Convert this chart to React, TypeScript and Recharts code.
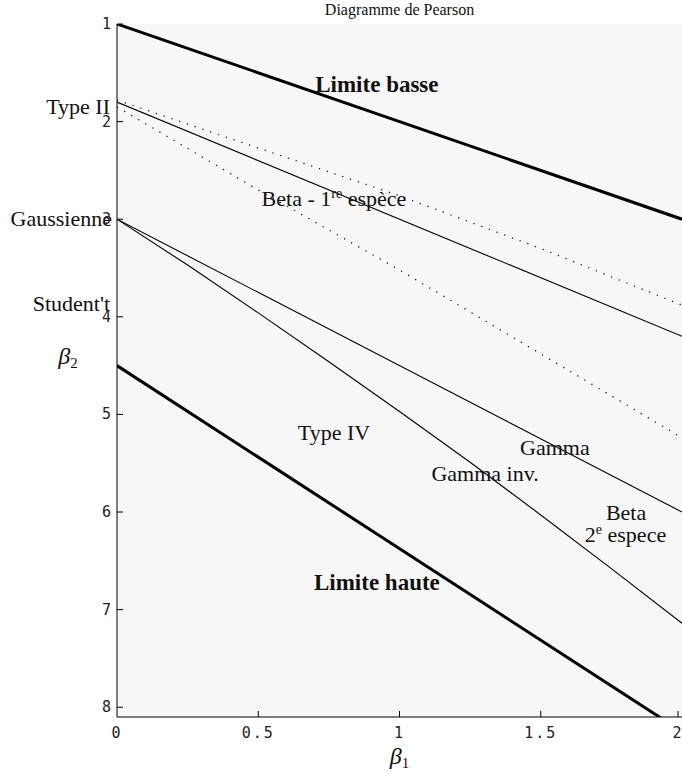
import React from 'react';
import { LineChart, Line, XAxis, YAxis, CartesianGrid, ReferenceDot } from 'recharts';

const BETA1_TICKS = [0, 0.5, 1, 1.5, 2];
const BETA2_TICKS = [1, 2, 3, 4, 5, 6, 7, 8];

const limiteBasse = [{ b1: 0, b2: 1 }, { b1: 2, b2: 3 }];
const limiteHaute = [{ b1: 0, b2: 4.5 }, { b1: 2, b2: 8.25 }];
const betaPremiere = [{ b1: 0, b2: 1.8 }, { b1: 2, b2: 4.2 }];
const pointilleHaut = [
  { b1: 0, b2: 1.78 }, { b1: 0.5, b2: 2.27 }, { b1: 1, b2: 2.76 }, { b1: 1.5, b2: 3.3 }, { b1: 2, b2: 3.88 },
];
const pointilleBas = [
  { b1: 0, b2: 1.85 }, { b1: 0.5, b2: 2.7 }, { b1: 1, b2: 3.52 }, { b1: 1.5, b2: 4.38 }, { b1: 2, b2: 5.24 },
];
const gamma = [{ b1: 0, b2: 3 }, { b1: 2, b2: 6 }];
const gammaInv = [
  { b1: 0, b2: 3 }, { b1: 0.25, b2: 3.47 }, { b1: 0.5, b2: 3.96 }, { b1: 0.75, b2: 4.46 },
  { b1: 1, b2: 4.97 }, { b1: 1.25, b2: 5.49 }, { b1: 1.5, b2: 6.03 }, { b1: 1.75, b2: 6.58 }, { b1: 2, b2: 7.14 },
];

type Annot = { text: string; sup?: string; rest?: string; b1: number; b2: number; anchor?: 'start' | 'middle' | 'end'; bold?: boolean; dx?: number };
const annotations: Annot[] = [
  { text: 'Limite basse', b1: 0.92, b2: 1.62, bold: true },
  { text: 'Beta - 1', sup: 're', rest: ' espèce', b1: 0.768, b2: 2.79 },
  { text: 'Type IV', b1: 0.768, b2: 5.19 },
  { text: 'Gamma', b1: 1.55, b2: 5.34 },
  { text: 'Gamma inv.', b1: 1.303, b2: 5.61 },
  { text: 'Beta', b1: 1.802, b2: 6.01 },
  { text: '2', sup: 'e', rest: ' espece', b1: 1.8, b2: 6.24 },
  { text: 'Limite haute', b1: 0.92, b2: 6.73, bold: true },
  { text: 'Type II', b1: 0, b2: 1.85, anchor: 'end', dx: -7 },
  { text: 'Gaussienne', b1: 0, b2: 3.0, anchor: 'end', dx: -5 },
  { text: "Student't", b1: 0, b2: 3.87, anchor: 'end', dx: -7 },
];

const W = 682;
const H = 774;
const PLOT_LEFT = 117;
const PLOT_BOTTOM = 717;
const SERIF = '"Liberation Serif", "DejaVu Serif", serif';
const MONO = '"DejaVu Sans Mono", monospace';
const LABEL_SIZE = 22;
const BOLD_SIZE = 23;

const YTick = (props: any) => {
  const { y, payload } = props;
  return (
    <g>
      <line x1={PLOT_LEFT} x2={PLOT_LEFT + 6} y1={y} y2={y} stroke="#000" strokeWidth={1} />
      <text x={PLOT_LEFT - 6} y={y} dy={5} textAnchor="end" fontFamily={MONO} fontSize={15} fill="#222">
        {payload.value}
      </text>
    </g>
  );
};

const XTick = (props: any) => {
  const { x, payload } = props;
  return (
    <g>
      {payload.value !== 0 && (
        <line x1={x} x2={x} y1={PLOT_BOTTOM} y2={PLOT_BOTTOM - 6} stroke="#000" strokeWidth={1} />
      )}
      <text x={x} y={PLOT_BOTTOM + 21} textAnchor="middle" fontFamily={MONO} fontSize={15} letterSpacing={2} fill="#222">
        {String(payload.value)}
      </text>
    </g>
  );
};

const AnnotLabel = (props: any) => {
  const { viewBox, a } = props;
  const cx = viewBox.x + (viewBox.width || 0) / 2;
  const cy = viewBox.y + (viewBox.height || 0) / 2;
  const size = a.bold ? BOLD_SIZE : LABEL_SIZE;
  return (
    <text
      x={cx + (a.dx || 0)}
      y={cy}
      dy={Math.round(size * 0.32)}
      textAnchor={a.anchor || 'middle'}
      fontFamily={SERIF}
      fontSize={size}
      fontWeight={a.bold ? 'bold' : 'normal'}
      fill="#111"
    >
      {a.text}
      {a.sup && (
        <tspan dy={-8} fontSize={14}>
          {a.sup}
        </tspan>
      )}
      {a.rest && <tspan dy={a.sup ? 8 : 0}>{a.rest}</tspan>}
    </text>
  );
};

const XLabel = (props: any) => {
  const { viewBox } = props;
  const cx = viewBox.x + viewBox.width / 2;
  return (
    <text x={cx} y={PLOT_BOTTOM + 47} textAnchor="middle" fontFamily={SERIF} fill="#111">
      <tspan fontStyle="italic" fontSize={24}>β</tspan>
      <tspan fontSize={15} dy={4}>1</tspan>
    </text>
  );
};

const YLabel = () => (
  <text x={68} y={364} textAnchor="middle" fontFamily={SERIF} fill="#111">
    <tspan fontStyle="italic" fontSize={24}>β</tspan>
    <tspan fontSize={15} dy={4}>2</tspan>
  </text>
);

export default function App() {
  return (
    <div style={{ position: 'absolute', left: 0, top: 0, width: W, height: H, background: '#fff' }}>
      <div
        style={{
          position: 'absolute',
          left: PLOT_LEFT,
          width: W - PLOT_LEFT,
          top: 0,
          textAlign: 'center',
          fontFamily: SERIF,
          fontSize: 16,
          lineHeight: '20px',
          color: '#111',
        }}
      >
        Diagramme de Pearson
      </div>
      <LineChart width={W} height={H} margin={{ top: 24, right: 0, bottom: 0, left: 0 }}>
        <CartesianGrid horizontal={false} vertical={false} fill="#f7f7f7" stroke="none" />
        <XAxis
          dataKey="b1"
          type="number"
          domain={[0, 2]}
          ticks={BETA1_TICKS}
          allowDataOverflow
          height={57}
          axisLine={{ stroke: '#000', strokeWidth: 1 }}
          tickLine={false}
          tick={<XTick />}
          label={<XLabel />}
        />
        <YAxis
          dataKey="b2"
          type="number"
          reversed
          domain={[1, 8.1]}
          ticks={BETA2_TICKS}
          allowDataOverflow
          width={117}
          axisLine={{ stroke: '#000', strokeWidth: 1 }}
          tickLine={false}
          tick={<YTick />}
          label={<YLabel />}
        />
        <Line data={limiteBasse} dataKey="b2" stroke="#000" strokeWidth={3} dot={false} isAnimationActive={false} />
        <Line data={limiteHaute} dataKey="b2" stroke="#000" strokeWidth={3} dot={false} isAnimationActive={false} />
        <Line data={betaPremiere} dataKey="b2" stroke="#000" strokeWidth={1.1} dot={false} isAnimationActive={false} />
        <Line data={pointilleHaut} dataKey="b2" stroke="#000" strokeWidth={1.2} strokeDasharray="1.2 7" dot={false} isAnimationActive={false} />
        <Line data={pointilleBas} dataKey="b2" stroke="#000" strokeWidth={1.2} strokeDasharray="1.2 7" dot={false} isAnimationActive={false} />
        <Line data={gamma} dataKey="b2" stroke="#000" strokeWidth={1.1} dot={false} isAnimationActive={false} />
        <Line data={gammaInv} dataKey="b2" stroke="#000" strokeWidth={1.1} dot={false} isAnimationActive={false} />
        {annotations.map((a, i) => (
          <ReferenceDot
            key={i}
            x={a.b1}
            y={a.b2}
            r={0}
            fill="none"
            stroke="none"
            ifOverflow="visible"
            label={<AnnotLabel a={a} />}
          />
        ))}
      </LineChart>
    </div>
  );
}
